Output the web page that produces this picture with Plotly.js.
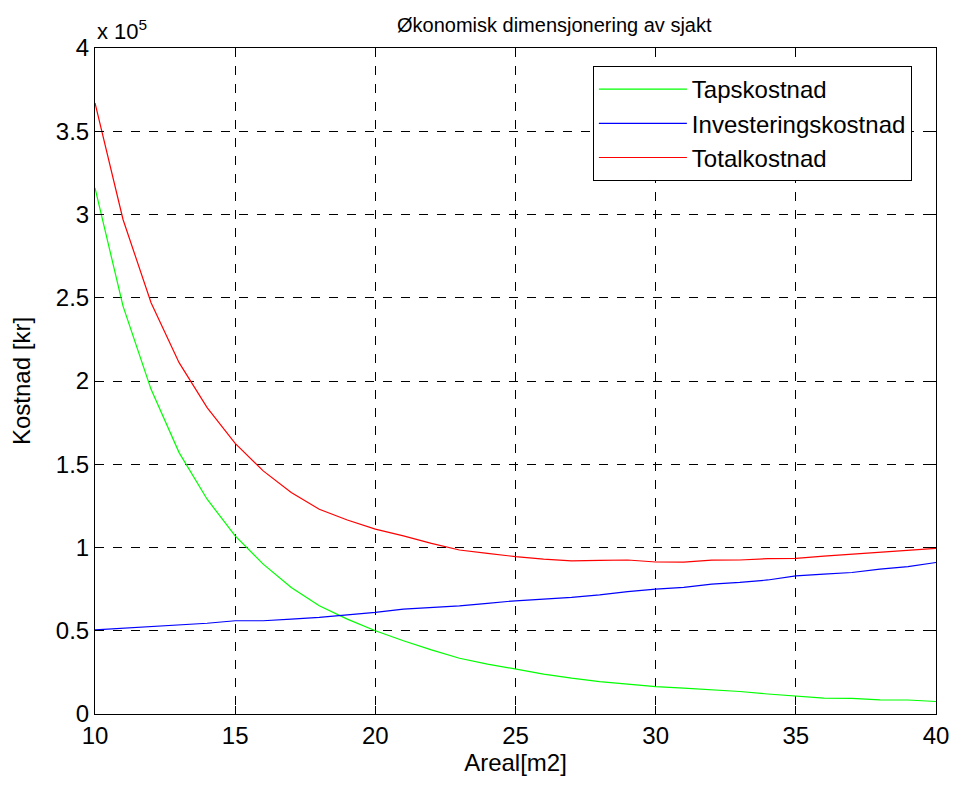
<!DOCTYPE html>
<html>
<head>
<meta charset="utf-8">
<script src="https://cdn.plot.ly/plotly-3.0.1.min.js"></script>
<style>html,body{margin:0;padding:0;background:#fff;}#chart{width:954px;height:785px;}</style>
</head>
<body>
<div id="chart"></div>
<script>
// Areal [m2]
var areal = [10,11,12,13,14,15,16,17,18,19,20,21,22,23,24,25,26,27,28,29,30,31,32,33,34,35,36,37,38,39,40];
// Costs in units of 10^5 kr
var tapskostnad = [3.16,2.45,1.95,1.57,1.29,1.07,0.90,0.76,0.65,0.57,0.50,0.44,0.385,0.335,0.30,0.27,0.24,0.215,0.195,0.18,0.165,0.155,0.145,0.135,0.12,0.106,0.095,0.094,0.085,0.084,0.075];
var investeringskostnad = [0.505,0.515,0.525,0.535,0.545,0.56,0.56,0.57,0.58,0.595,0.61,0.63,0.64,0.65,0.665,0.68,0.69,0.70,0.715,0.735,0.75,0.76,0.78,0.79,0.805,0.83,0.84,0.85,0.87,0.885,0.91];
var totalkostnad = [3.67,2.97,2.47,2.11,1.84,1.625,1.46,1.33,1.23,1.165,1.11,1.07,1.025,0.985,0.965,0.945,0.93,0.92,0.923,0.925,0.913,0.912,0.924,0.925,0.933,0.935,0.948,0.96,0.973,0.983,0.995];
var yTicks = [0,0.5,1,1.5,2,2.5,3,3.5,4];
var yTickText = ['0','0.5','1','1.5','2','2.5','3','3.5','4'];
var xTicks = [10,15,20,25,30,35,40];

var FONT = 'Liberation Sans, Arial, sans-serif';
var traces = [
  {x: areal, y: tapskostnad, name: 'Tapskostnad', mode: 'lines', line: {color: '#00ff00', width: 1.2}},
  {x: areal, y: investeringskostnad, name: 'Investeringskostnad', mode: 'lines', line: {color: '#0000ff', width: 1.2}},
  {x: areal, y: totalkostnad, name: 'Totalkostnad', mode: 'lines', line: {color: '#ff0000', width: 1.2}}
];
var axisCommon = {
  showline: true, linecolor: '#000', linewidth: 1, mirror: 'allticks',
  ticks: 'inside', ticklen: 8, tickcolor: '#000', tickwidth: 1,
  showgrid: true, gridcolor: '#000', griddash: 'dash', gridwidth: 1,
  zeroline: false, tickfont: {family: FONT, size: 24, color: '#000'}
};
var layout = {
  width: 954, height: 785,
  paper_bgcolor: '#fff', plot_bgcolor: '#fff',
  margin: {l: 95, r: 18, t: 48, b: 71},
  font: {family: FONT, color: '#000'},
  title: {text: 'Økonomisk dimensjonering av sjakt', font: {family: FONT, size: 20, color: '#000'},
          x: 0.581, xanchor: 'center', xref: 'container', y: 0.968, yanchor: 'middle', yref: 'container'},
  xaxis: Object.assign({}, axisCommon, {range: [10, 40], tickvals: xTicks,
          title: {text: 'Areal[m2]', font: {family: FONT, size: 24, color: '#000'}, standoff: 4}}),
  yaxis: Object.assign({}, axisCommon, {range: [0, 4], tickvals: yTicks, ticktext: yTickText,
          title: {text: 'Kostnad [kr]', font: {family: FONT, size: 24, color: '#000'}, standoff: 18}}),
  showlegend: true,
  legend: {x: 0.592, y: 0.973, xanchor: 'left', yanchor: 'top', bgcolor: '#fff',
           bordercolor: '#000', borderwidth: 1, font: {family: FONT, size: 24, color: '#000'},
           tracegroupgap: 0, itemwidth: 88},
  annotations: [{xref: 'paper', yref: 'paper', x: 0, y: 1, xanchor: 'left', yanchor: 'bottom',
                 yshift: 2, showarrow: false, text: 'x 10<sup>5</sup>',
                 font: {family: FONT, size: 22, color: '#000'}}]
};
Plotly.newPlot('chart', traces, layout, {displayModeBar: false, staticPlot: true});
</script>
</body>
</html>
